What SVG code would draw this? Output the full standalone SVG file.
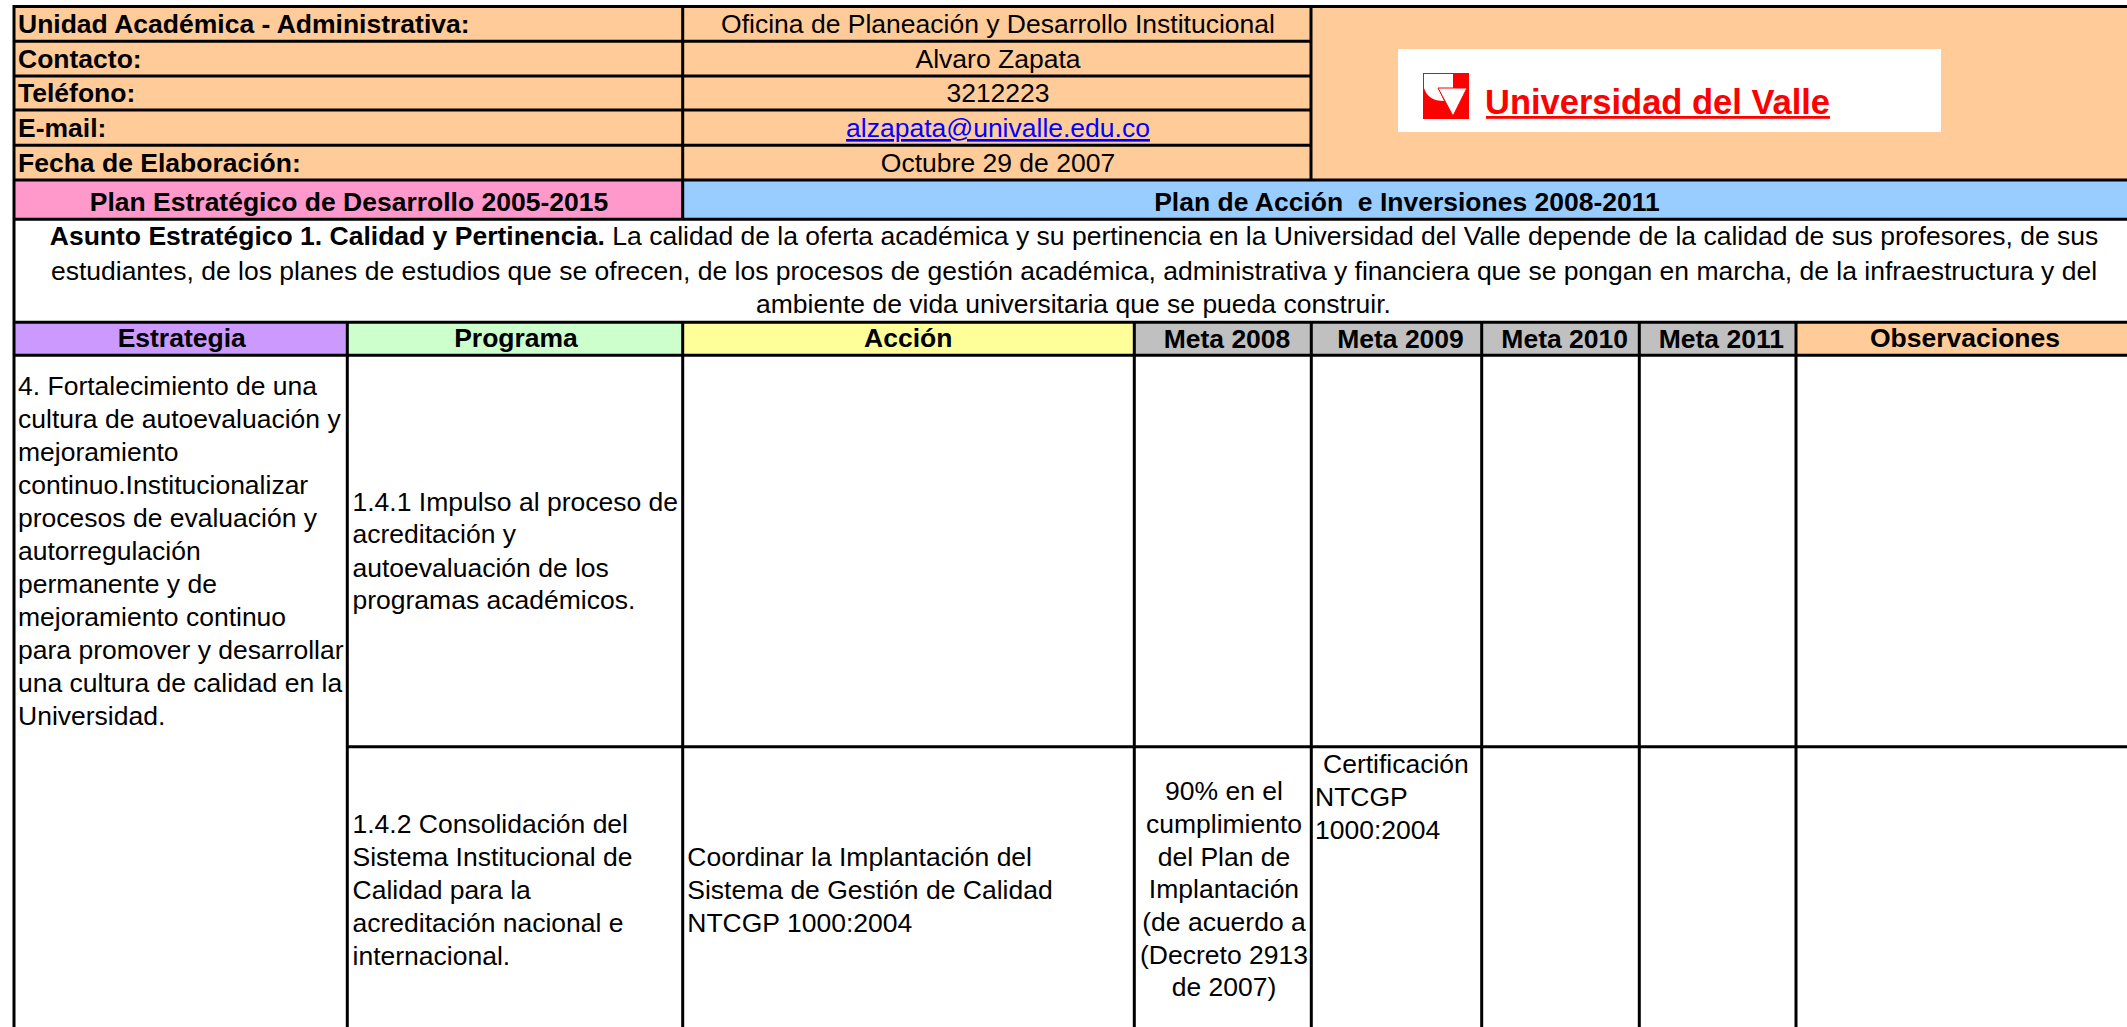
<svg xmlns="http://www.w3.org/2000/svg" width="2127" height="1027" viewBox="0 0 2127 1027">
<style>
text{font-family:"Liberation Sans",Arial,sans-serif;font-size:26.5px;fill:#000;white-space:pre}
.b{font-weight:700}
.m{text-anchor:middle}
.l{stroke:#000;stroke-width:3;fill:none}
</style>
<rect width="2127" height="1027" fill="#fff"/>
<g id="fills">
<rect x="14" y="6" width="2113" height="174" fill="#fc9"/>
<rect x="14" y="180" width="669" height="39" fill="#f9c"/>
<rect x="683" y="180" width="1444" height="39" fill="#9cf"/>
<rect x="14" y="322" width="333" height="33" fill="#c9f"/>
<rect x="347" y="322" width="336" height="33" fill="#cfc"/>
<rect x="683" y="322" width="451" height="33" fill="#ff9"/>
<rect x="1134" y="322" width="662" height="33" fill="#c0c0c0"/>
<rect x="1796" y="322" width="331" height="33" fill="#fc9"/>
</g>
<g id="connectors">
<path class="l" d="M14 6.500H2127M14 41.300H1311M14 76H1311M14 110H1311M14 145.300H1311M14 180H2127M14 219.300H2127M14 322.300H2127M14 355.300H2127M347 746.700H2127"/>
<path class="l" d="M14 5V1027M682.700 6V219M1311 6V180M347.300 322V1027M682.700 322V1027M1134.300 322V1027M1311.300 322V1027M1481.700 322V1027M1639.300 322V1027M1796 322V1027"/>
</g>
<g id="header">
<text class="b" x="18" y="33.300">Unidad Académica - Administrativa:</text>
<text class="b" x="18" y="67.700">Contacto:</text>
<text class="b" x="18" y="102">Teléfono:</text>
<text class="b" x="18" y="137">E-mail:</text>
<text class="b" x="18" y="172">Fecha de Elaboración:</text>
<text class="m" x="998" y="33.300">Oficina de Planeación y Desarrollo Institucional</text>
<text class="m" x="998" y="67.700">Alvaro Zapata</text>
<text class="m" x="998" y="102">3212223</text>
<text class="m" x="998" y="137" style="fill:#00f;text-decoration:underline">alzapata@univalle.edu.co</text>
<text class="m" x="998" y="172">Octubre 29 de 2007</text>
</g>
<g id="logo">
<rect x="1398" y="49" width="543" height="83" fill="#fff"/>
<path d="M1423 73H1469V119H1423Z" fill="#f00"/>
<path d="M1424 74H1453V88H1438L1444 101Q1428 101 1424 88Z" fill="#fff"/>
<path d="M1438 88L1467 88L1453 116Z" fill="#fff" stroke="#f00" stroke-width="1"/>
<text class="b" x="1485" y="114" style="font-size:35px;fill:#f00" textLength="345" lengthAdjust="spacingAndGlyphs">Universidad del Valle</text>
<rect x="1486" y="116" width="344" height="2.800" fill="#f00"/>
</g>
<g id="plans">
<text class="b m" x="349" y="211">Plan Estratégico de Desarrollo 2005-2015</text>
<text class="b m" x="1407" y="211">Plan de Acción  e Inversiones 2008-2011</text>
</g>
<g id="asunto">
<text class="m" x="1074" y="245"><tspan class="b">Asunto Estratégico 1. Calidad y Pertinencia.</tspan> La calidad de la oferta académica y su pertinencia en la Universidad del Valle depende de la calidad de sus profesores, de sus</text>
<text class="m" x="1074" y="279.500">estudiantes, de los planes de estudios que se ofrecen, de los procesos de gestión académica, administrativa y financiera que se pongan en marcha, de la infraestructura y del</text>
<text class="m" x="1073.500" y="312.700">ambiente de vida universitaria que se pueda construir.</text>
</g>
<g id="table-head">
<text class="b m" x="181.700" y="347.300">Estrategia</text>
<text class="b m" x="516" y="347.300">Programa</text>
<text class="b m" x="908.300" y="346.700">Acción</text>
<text class="b m" x="1227" y="348">Meta 2008</text>
<text class="b m" x="1400.500" y="348">Meta 2009</text>
<text class="b m" x="1564.700" y="348">Meta 2010</text>
<text class="b m" x="1721.300" y="348">Meta 2011</text>
<text class="b m" x="1965" y="347.300">Observaciones</text>
</g>
<g id="estrategia">
<text x="18" y="395">4. Fortalecimiento de una</text>
<text x="18" y="428">cultura de autoevaluación y</text>
<text x="18" y="461">mejoramiento</text>
<text x="18" y="494">continuo.Institucionalizar</text>
<text x="18" y="527">procesos de evaluación y</text>
<text x="18" y="560">autorregulación</text>
<text x="18" y="593">permanente y de</text>
<text x="18" y="626">mejoramiento continuo</text>
<text x="18" y="659">para promover y desarrollar</text>
<text x="18" y="692">una cultura de calidad en la</text>
<text x="18" y="725">Universidad.</text>
</g>
<g id="programa-1">
<text x="352.500" y="510.700">1.4.1 Impulso al proceso de</text>
<text x="352.500" y="543.300">acreditación y</text>
<text x="352.500" y="576.500">autoevaluación de los</text>
<text x="352.500" y="609.300">programas académicos.</text>
</g>
<g id="programa-2">
<text x="352.500" y="832.700">1.4.2 Consolidación del</text>
<text x="352.500" y="865.700">Sistema Institucional de</text>
<text x="352.500" y="898.700">Calidad para la</text>
<text x="352.500" y="931.700">acreditación nacional e</text>
<text x="352.500" y="964.700">internacional.</text>
</g>
<g id="accion">
<text x="687.300" y="865.700">Coordinar la Implantación del</text>
<text x="687.300" y="898.700">Sistema de Gestión de Calidad</text>
<text x="687.300" y="931.500">NTCGP 1000:2004</text>
</g>
<g id="meta-2008">
<text class="m" x="1224" y="800">90% en el</text>
<text class="m" x="1224" y="832.500">cumplimiento</text>
<text class="m" x="1224" y="865.500">del Plan de</text>
<text class="m" x="1224" y="898">Implantación</text>
<text class="m" x="1224" y="930.700">(de acuerdo a</text>
<text class="m" x="1224" y="963.500">(Decreto 2913</text>
<text class="m" x="1224" y="996">de 2007)</text>
</g>
<g id="meta-2009">
<text x="1323" y="772.700">Certificación</text>
<text x="1315" y="806">NTCGP</text>
<text x="1315" y="838.700">1000:2004</text>
</g>
</svg>
